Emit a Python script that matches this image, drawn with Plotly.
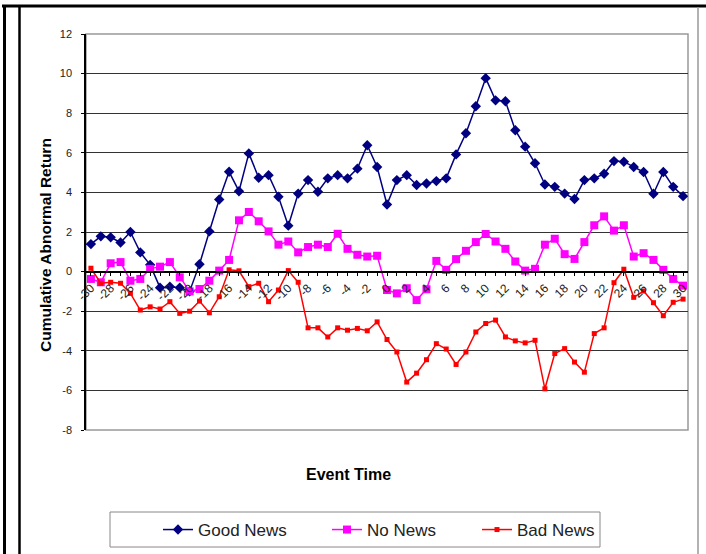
import plotly.graph_objects as go

event_time = list(range(-30, 31))

good_news = [1.39, 1.78, 1.73, 1.47, 2.00, 0.97, 0.34, -0.81, -0.76, -0.81,
             -1.00, 0.37, 2.03, 3.64, 5.04, 4.06, 5.97, 4.74, 4.87, 3.78,
             2.32, 3.94, 4.62, 4.03, 4.71, 4.87, 4.71, 5.20, 6.38, 5.28,
             3.39, 4.62, 4.87, 4.37, 4.45, 4.57, 4.71, 5.92, 6.99, 8.35,
             9.77, 8.65, 8.60, 7.14, 6.31, 5.47, 4.40, 4.28, 3.94, 3.67,
             4.62, 4.71, 4.94, 5.58, 5.55, 5.28, 5.03, 3.93, 5.03, 4.28,
             3.81]

no_news = [-0.37, -0.54, 0.42, 0.48, -0.46, -0.37, 0.14, 0.25, 0.48, -0.29,
           -1.00, -0.88, -0.46, 0.05, 0.59, 2.59, 3.01, 2.54, 2.03, 1.36,
           1.52, 0.97, 1.24, 1.36, 1.24, 1.91, 1.15, 0.85, 0.76, 0.80,
           -0.93, -1.10, -0.84, -1.44, -0.89, 0.54, 0.09, 0.63, 1.05, 1.49,
           1.90, 1.52, 1.15, 0.51, 0.05, 0.14, 1.36, 1.66, 0.88, 0.64,
           1.49, 2.34, 2.79, 2.07, 2.34, 0.76, 0.93, 0.59, 0.09, -0.37,
           -0.71]

bad_news = [0.17, -0.59, -0.54, -0.59, -1.10, -1.94, -1.78, -1.89, -1.52, -2.11,
            -2.00, -1.49, -2.08, -1.27, 0.09, 0.04, -0.76, -0.59, -1.52, -0.93,
            0.05, -0.54, -2.84, -2.84, -3.30, -2.84, -2.96, -2.87, -2.99, -2.54,
            -3.43, -4.06, -5.58, -5.13, -4.45, -3.64, -3.91, -4.69, -4.06, -3.05,
            -2.62, -2.45, -3.30, -3.50, -3.60, -3.47, -5.92, -4.14, -3.89, -4.57,
            -5.08, -3.13, -2.84, -0.56, 0.12, -1.30, -0.98, -1.57, -2.23, -1.55,
            -1.39]

tick_vals = list(range(-30, 31))
tick_text = [str(v) if v % 2 == 0 else "" for v in tick_vals]
y_ticks = list(range(-8, 13, 2))
y_tick_text = [str(v) for v in y_ticks]

FONT = "Liberation Sans, Arial, sans-serif"

fig = go.Figure()
fig.add_trace(go.Scatter(x=event_time, y=good_news, name="Good News", mode="lines+markers",
                         line=dict(color="#000080", width=1.5), legend="legend",
                         marker=dict(symbol="diamond", size=8, color="#000080")))
fig.add_trace(go.Scatter(x=event_time, y=no_news, name="No News", mode="lines+markers",
                         line=dict(color="#FF00FF", width=1.5), legend="legend2",
                         marker=dict(symbol="square", size=8, color="#FF00FF")))
fig.add_trace(go.Scatter(x=event_time, y=bad_news, name="Bad News", mode="lines+markers",
                         line=dict(color="#FF0000", width=1.5), legend="legend3",
                         marker=dict(symbol="square", size=5, color="#FF0000")))

# pixel helpers for frame decoration
L, R, T, B = 86, 688, 34, 430
W, H = R - L, B - T
def px(x):
    return (x - L) / W
def py(y):
    return (B - y) / H

shapes = [
    dict(type="rect", xref="paper", yref="paper", x0=0, x1=1, y0=0, y1=1,
         line=dict(color="#999999", width=1.5), layer="below"),
    dict(type="line", xref="paper", yref="paper", x0=px(2), x1=px(706), y0=py(6), y1=py(6),
         line=dict(color="black", width=3)),
    dict(type="line", xref="paper", yref="paper", x0=px(4.5), x1=px(4.5), y0=py(6), y1=py(554),
         line=dict(color="black", width=3)),
    dict(type="line", xref="paper", yref="paper", x0=px(19.5), x1=px(19.5), y0=py(6), y1=py(554),
         line=dict(color="black", width=2.5)),
    dict(type="line", xref="paper", yref="paper", x0=px(698), x1=px(698), y0=py(7), y1=py(554),
         line=dict(color="#999999", width=1.5)),
    # legend box
    dict(type="rect", xref="paper", yref="paper", x0=px(110), x1=px(600), y0=py(512), y1=py(547),
         line=dict(color="#888888", width=1), fillcolor="white", layer="below"),
]

annotations = [
    dict(text="<b>Cumulative Abnormal Return</b>", xref="paper", yref="paper",
         x=px(45), y=py(245), xanchor="center", yanchor="middle", textangle=-90, showarrow=False,
         font=dict(family=FONT, size=15.5, color="black")),
    dict(text="<b>Event Time</b>", xref="paper", yref="paper",
         x=px(348), y=py(474), xanchor="center", yanchor="middle", showarrow=False,
         font=dict(family=FONT, size=16, color="black")),
]

def leg(xpix):
    return dict(orientation="h", x=px(xpix), y=py(530), xanchor="left", yanchor="middle",
                borderwidth=0, bgcolor="rgba(0,0,0,0)",
                font=dict(family=FONT, size=17, color="#222222"), itemwidth=30)

fig.update_layout(
    width=706, height=554,
    margin=dict(l=L, r=706 - R, t=T, b=554 - B, autoexpand=False),
    paper_bgcolor="white", plot_bgcolor="white",
    font=dict(family=FONT, size=11, color="#222222"),
    showlegend=True,
    legend=leg(158), legend2=leg(327), legend3=leg(477),
    shapes=shapes, annotations=annotations,
)

fig.update_xaxes(
    range=[-30.5, 30.5], tickmode="array", tickvals=tick_vals, ticktext=tick_text,
    tickangle=-45, ticks="outside", ticklen=4, tickcolor="black",
    showgrid=False, zeroline=False, showline=True, linecolor="black", linewidth=1.5,
    anchor="free", position=8 / 20, automargin=False,
    tickfont=dict(family=FONT, size=12, color="#222222"),
)
fig.update_yaxes(
    range=[-8, 12], tickmode="array", tickvals=y_ticks, ticktext=y_tick_text,
    ticks="outside", ticklen=3, tickcolor="black", ticklabelstandoff=7,
    showgrid=True, gridcolor="#333333", gridwidth=1, zeroline=False,
    showline=True, linecolor="black", linewidth=1.5, automargin=False,
    tickfont=dict(family=FONT, size=11, color="#222222"),
)

fig.write_html("out.html", config={"displayModeBar": False},
               post_script="document.body.style.margin='0';document.body.style.overflow='hidden';")
